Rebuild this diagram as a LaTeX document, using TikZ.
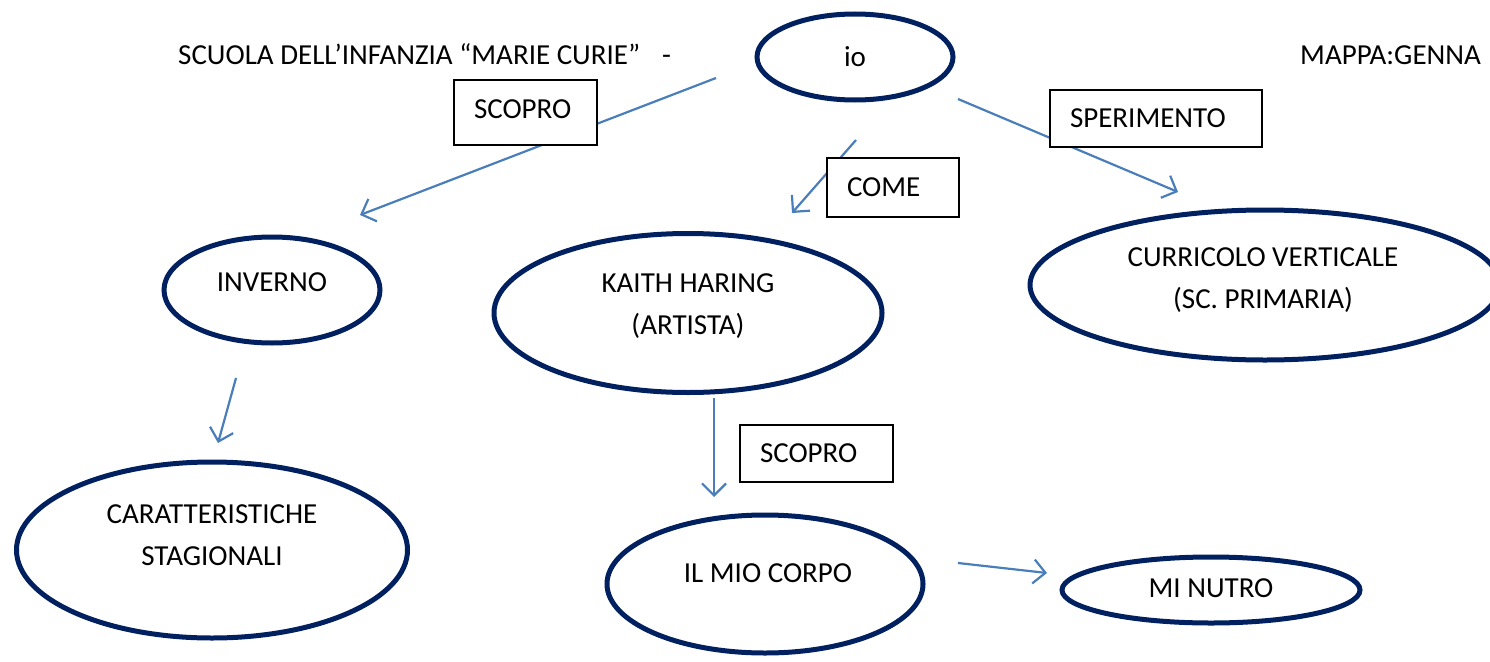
\documentclass[tikz,border=0pt]{standalone}
\usepackage{fontspec}
\setmainfont{Carlito}
\usetikzlibrary{shapes.geometric,arrows.meta}
\definecolor{ovalblue}{RGB}{0,32,96}
\definecolor{linkblue}{RGB}{74,126,187}
\tikzset{
  oval/.style={ellipse, draw=ovalblue, line width=5pt, inner sep=0pt},
  labelbox/.style={draw=black, line width=1.5pt, fill=white, inner ysep=0pt, inner xsep=20pt,
    align=left, text depth=0pt, font=\fontsize{29}{34}\selectfont},
  link/.style={draw=linkblue, line width=2.2pt,
    -{Straight Barb[length=12pt,width=24pt,line width=2.2pt]}},
  txt/.style={inner sep=0pt, align=center, font=\fontsize{29}{42}\selectfont}
}
\begin{document}
\begin{tikzpicture}[x=1pt,y=-1pt]
\useasboundingbox (0,0) rectangle (1490,661);
\clip (0,0) rectangle (1490,661);

%Text: header
\node[txt, anchor=base west] (head) at (178,64) {SCUOLA DELL’INFANZIA “MARIE CURIE”\hspace{22pt}-};
\node[txt, anchor=base west] (mappa) at (1300,64) {MAPPA:GENNA};

%Shape: Ellipse
\node[oval, minimum width=196pt, minimum height=86pt] (io) at (855,57) {};
\node[txt] (io-t) at (855,57) {io};
%Shape: Ellipse
\node[oval, minimum width=216pt, minimum height=106pt] (inverno) at (272,290) {};
\node[txt] (inverno-t) at (272,282) {INVERNO};
%Shape: Ellipse
\node[oval, minimum width=388pt, minimum height=159pt] (kaith) at (688,313) {};
\node[txt] (kaith-t) at (688,306) {KAITH HARING\\(ARTISTA)};
%Shape: Ellipse
\node[oval, minimum width=470pt, minimum height=150pt] (curricolo) at (1265,285) {};
\node[txt] (curricolo-t) at (1263,280) {CURRICOLO VERTICALE\\(SC. PRIMARIA)};
%Shape: Ellipse
\node[oval, minimum width=391pt, minimum height=176pt] (caratt) at (212,550) {};
\node[txt] (caratt-t) at (212,535) {CARATTERISTICHE\\STAGIONALI};
%Shape: Ellipse
\node[oval, minimum width=316pt, minimum height=138pt] (corpo) at (765,584) {};
\node[txt] (corpo-t) at (768,573) {IL MIO CORPO};
%Shape: Ellipse
\node[oval, minimum width=298pt, minimum height=66pt] (nutro) at (1211,590) {};
\node[txt] (nutro-t) at (1211,588) {MI NUTRO};

%Arrow ends
\coordinate (io-l) at (716,78);
\coordinate (io-r) at (958,99);
\coordinate (io-b) at (856,140);
\coordinate (inverno-top) at (360,215);
\coordinate (curricolo-top) at (1178,192);
\coordinate (kaith-top) at (792,213);
\coordinate (inverno-bot) at (236,378);
\coordinate (caratt-top) at (218,443);
\coordinate (kaith-bot) at (714,398);
\coordinate (corpo-top) at (714,497);
\coordinate (corpo-r) at (958,563);
\coordinate (nutro-l) at (1047,573);

%Straight Lines
\draw[link] (io-l) -- (inverno-top);
\draw[link] (io-r) -- (curricolo-top);
\draw[link] (io-b) -- (kaith-top);
\draw[link] (inverno-bot) -- (caratt-top);
\draw[link] (kaith-bot) -- (corpo-top);
\draw[link] (corpo-r) -- (nutro-l);

%Shape: Rectangle
\node[labelbox, text width=103pt, minimum height=65pt, text depth=6pt] (scopro1) at (525.5,112.5) {SCOPRO};
\node[labelbox, text width=172pt, minimum height=57pt] (sperimento) at (1156,118.5) {SPERIMENTO};
\node[labelbox, text width=92pt, minimum height=59pt] (come) at (893,187.5) {COME};
\node[labelbox, text width=113pt, minimum height=57pt] (scopro2) at (816.5,453.5) {SCOPRO};

\end{tikzpicture}
\end{document}
